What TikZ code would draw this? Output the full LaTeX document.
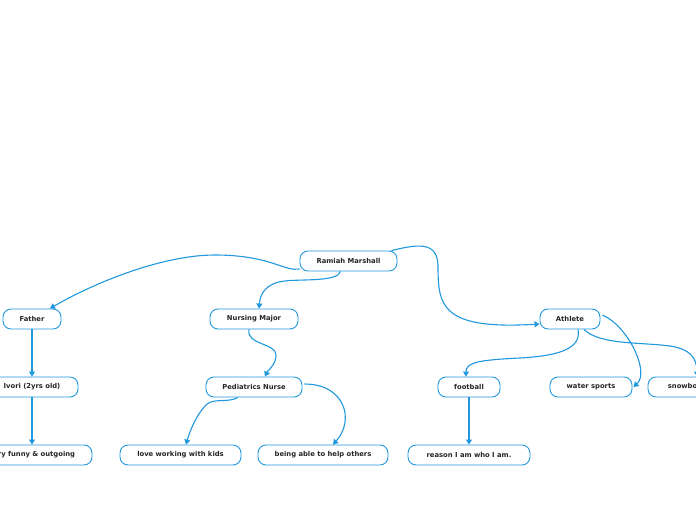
\documentclass[tikz,border=0pt]{standalone}
\usepackage{fontspec}
\setmainfont{DejaVu Sans}
\usetikzlibrary{arrows.meta}
\definecolor{mapblue}{RGB}{32,152,222}

\begin{document}
\begin{tikzpicture}[x=1pt, y=-1pt,
  topic node/.style={draw=mapblue, line width=0.9pt, fill=white, rounded corners=8pt,
    minimum height=20pt, inner sep=2pt, text=black!85,
    font=\fontsize{6.8}{8}\selectfont\bfseries},
  link/.style={draw=mapblue, line width=1.1pt, -{Triangle[width=6pt,length=5pt]}}]
  \useasboundingbox (0,0) rectangle (696,520);

  \node[topic node, minimum width=97pt] (root) at (348.5,261) {Ramiah Marshall};

  \node[topic node, minimum width=58pt] (father) at (32,319) {Father};
  \node[topic node, minimum width=88pt] (nursing) at (254,319) {Nursing Major};
  \node[topic node, minimum width=60pt] (athlete) at (570,319) {Athlete};

  \node[topic node, minimum width=92pt] (ivori) at (32,387) {Ivori (2yrs old)};
  \node[topic node, minimum width=96pt] (pediatrics) at (254,387) {Pediatrics Nurse};
  \node[topic node, minimum width=62pt] (football) at (469,387) {football};
  \node[topic node, minimum width=82pt] (water) at (591,387) {water sports};
  \node[topic node, minimum width=94pt] (snow) at (695,387) {snowboarding};

  \node[topic node, minimum width=120pt] (funny) at (32,455) {very funny \& outgoing};
  \node[topic node, minimum width=121pt] (love) at (180.5,455) {love working with kids};
  \node[topic node, minimum width=130pt] (helping) at (323,455) {being able to help others};
  \node[topic node, minimum width=122pt] (reason) at (469,455) {reason I am who I am.};

  % from the central topic
  \draw[link] ([yshift=-8pt]root.west) .. controls (285,272) and (270,255) .. (215,255)
    .. controls (160,255) and (90,285) .. ([xshift=18pt]father.north);
  \draw[link] ([xshift=-8pt]root.south) .. controls (338,282) and (300,279) .. (285,281)
    .. controls (265,283) and (260,295) .. ([xshift=5pt]nursing.north);
  \draw[link] ([xshift=-6pt]root.north east) .. controls (415,245) and (437,240) .. (438,265)
    .. controls (438,305) and (440,330) .. ([yshift=-5pt]athlete.west);

  % Father
  \draw[link] (father) -- (ivori);
  \draw[link] (ivori) -- (funny);

  % Nursing
  \draw[link] ([xshift=-5pt]nursing.south) .. controls (246,345) and (276,343) .. (276,355)
    .. controls (276,365) and (268,370) .. ([xshift=11pt]pediatrics.north);
  \draw[link] ([xshift=-16pt]pediatrics.south) .. controls (228,403) and (215,398) .. (207,404)
    .. controls (198,412) and (190,430) .. ([xshift=5.5pt]love.north);
  \draw[link] ([yshift=3pt,xshift=2pt]pediatrics.east) .. controls (345,384) and (355,420)
    .. ([xshift=10pt]helping.north);

  % Athlete
  \draw[link] ([xshift=8pt]athlete.south) .. controls (582,350) and (555,356) .. (520,358)
    .. controls (480,360) and (466,362) .. ([xshift=-3pt]football.north);
  \draw[link] ([yshift=4pt,xshift=2pt]athlete.east) .. controls (628,326) and (650,372)
    .. ([xshift=1pt]water.east);
  \draw[link] ([xshift=14pt]athlete.south) .. controls (600,345) and (640,342) .. (670,346)
    .. controls (690,349) and (697,358) .. ([xshift=2pt]snow.north);
  \draw[link] (football) -- (reason);
\end{tikzpicture}
\end{document}
